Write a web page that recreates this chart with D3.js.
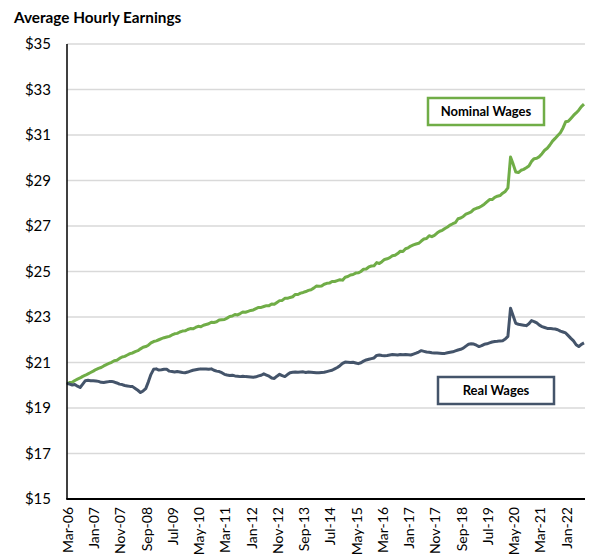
<!DOCTYPE html>
<html lang="en">
<head>
    <meta charset="UTF-8">
    <script src="https://d3js.org/d3.v7.min.js"></script>
    <style>
        body { margin: 0; background: white; }
        text { font-family: Lato, "Open Sans", sans-serif; fill: #000; }
        .title { font-size: 15.3px; font-weight: bold; }
        .tick-y { font-size: 15px; }
        .tick-x { font-size: 14px; }
        .label { font-size: 13px; font-weight: bold; }
        .grid { stroke: #d9d9d9; stroke-width: 1.3px; }
    </style>
</head>
<body>
    <div id="chart"></div>

    <script>
        // monthly, Mar-06 .. Aug-22
        const startMonth = new Date(2006, 2, 1);

        const nominal = [
            // 2006 Mar-Dec
            20.04, 20.12, 20.13, 20.21, 20.27, 20.32, 20.39, 20.44, 20.50, 20.56,
            // 2007
            20.62, 20.69, 20.74, 20.78, 20.85, 20.91, 20.96, 21.01, 21.08, 21.10, 21.18, 21.24,
            // 2008
            21.27, 21.33, 21.39, 21.42, 21.48, 21.52, 21.60, 21.67, 21.70, 21.76, 21.86, 21.92,
            // 2009
            21.95, 22.00, 22.05, 22.09, 22.12, 22.15, 22.21, 22.26, 22.28, 22.34, 22.38, 22.39,
            // 2010
            22.45, 22.49, 22.48, 22.54, 22.59, 22.57, 22.64, 22.67, 22.70, 22.77, 22.76, 22.79,
            // 2011
            22.87, 22.88, 22.89, 22.95, 23.02, 23.04, 23.11, 23.09, 23.15, 23.22, 23.21, 23.25,
            // 2012
            23.29, 23.31, 23.37, 23.42, 23.42, 23.46, 23.50, 23.50, 23.57, 23.56, 23.64, 23.72,
            // 2013
            23.73, 23.82, 23.82, 23.86, 23.89, 23.99, 23.99, 24.05, 24.08, 24.12, 24.17, 24.20,
            // 2014
            24.27, 24.36, 24.35, 24.36, 24.44, 24.48, 24.49, 24.56, 24.56, 24.60, 24.64, 24.62,
            // 2015
            24.75, 24.78, 24.85, 24.87, 24.93, 24.94, 25.00, 25.10, 25.11, 25.20, 25.24, 25.25,
            // 2016
            25.39, 25.35, 25.43, 25.53, 25.56, 25.61, 25.69, 25.71, 25.79, 25.89, 25.88, 26.00,
            // 2017
            26.04, 26.12, 26.17, 26.21, 26.24, 26.34, 26.43, 26.45, 26.57, 26.53, 26.59, 26.69,
            // 2018
            26.77, 26.81, 26.89, 26.96, 27.04, 27.10, 27.15, 27.32, 27.35, 27.42, 27.52, 27.57,
            // 2019
            27.62, 27.73, 27.78, 27.81, 27.88, 27.96, 28.06, 28.16, 28.16, 28.26, 28.31, 28.34,
            // 2020
            28.44, 28.52, 28.68, 30.03, 29.72, 29.37, 29.35, 29.45, 29.49, 29.56, 29.64, 29.84,
            // 2021
            29.96, 29.98, 30.05, 30.18, 30.33, 30.42, 30.56, 30.73, 30.85, 30.98, 31.10, 31.31,
            // 2022 Jan-Aug
            31.58, 31.60, 31.73, 31.86, 31.97, 32.09, 32.25, 32.36
        ];

        const real = [
            // 2006 Mar-Dec
            20.09, 20.05, 20.01, 20.03, 19.96, 19.90, 20.05, 20.20, 20.22, 20.20,
            // 2007
            20.20, 20.19, 20.17, 20.13, 20.12, 20.14, 20.16, 20.17, 20.14, 20.10, 20.05, 20.03,
            // 2008
            19.99, 19.97, 19.95, 19.94, 19.86, 19.78, 19.68, 19.75, 19.85, 20.15, 20.48, 20.70,
            // 2009
            20.72, 20.67, 20.68, 20.70, 20.70, 20.62, 20.60, 20.58, 20.60, 20.58, 20.56, 20.55,
            // 2010
            20.58, 20.62, 20.66, 20.68, 20.70, 20.72, 20.71, 20.71, 20.70, 20.72, 20.66, 20.62,
            // 2011
            20.60, 20.55, 20.48, 20.45, 20.43, 20.44, 20.41, 20.40, 20.38, 20.40, 20.38, 20.37,
            // 2012
            20.36, 20.35, 20.37, 20.41, 20.44, 20.50, 20.45, 20.40, 20.32, 20.30, 20.40, 20.48,
            // 2013
            20.42, 20.38, 20.47, 20.55, 20.57, 20.58, 20.57, 20.58, 20.59, 20.56, 20.58, 20.57,
            // 2014
            20.56, 20.55, 20.55, 20.56, 20.57, 20.60, 20.63, 20.66, 20.72, 20.78, 20.86, 20.96,
            // 2015
            21.02, 21.01, 21.00, 21.01, 20.98, 20.95, 20.99, 21.06, 21.11, 21.14, 21.17, 21.20,
            // 2016
            21.31, 21.33, 21.31, 21.30, 21.31, 21.33, 21.35, 21.34, 21.33, 21.35, 21.34, 21.35,
            // 2017
            21.34, 21.33, 21.37, 21.41, 21.46, 21.52, 21.49, 21.46, 21.45, 21.43, 21.42, 21.42,
            // 2018
            21.41, 21.40, 21.40, 21.43, 21.45, 21.47, 21.51, 21.55, 21.58, 21.63, 21.72, 21.80,
            // 2019
            21.82, 21.81, 21.76, 21.70, 21.74, 21.80, 21.82, 21.86, 21.90, 21.92, 21.93, 21.95,
            // 2020
            21.96, 22.03, 22.15, 23.38, 23.05, 22.72, 22.68, 22.66, 22.64, 22.62, 22.70, 22.84,
            // 2021
            22.80, 22.74, 22.64, 22.58, 22.54, 22.50, 22.50, 22.48, 22.47, 22.44, 22.38, 22.34,
            // 2022 Jan-Aug
            22.30, 22.18, 22.06, 21.95, 21.78, 21.70, 21.80, 21.86
        ];

        const yTicks = [15, 17, 19, 21, 23, 25, 27, 29, 31, 33, 35];
        const xTickLabels = ["Mar-06", "Jan-07", "Nov-07", "Sep-08", "Jul-09", "May-10", "Mar-11",
            "Jan-12", "Nov-12", "Sep-13", "Jul-14", "May-15", "Mar-16", "Jan-17", "Nov-17",
            "Sep-18", "Jul-19", "May-20", "Mar-21", "Jan-22"];

        const width = 589, height = 559;
        const plotLeft = 67, plotRight = 585, plotTop = 44, plotBottom = 499;

        const fmt = d3.timeFormat("%b-%y");
        const months = d3.range(nominal.length).map(i => fmt(d3.timeMonth.offset(startMonth, i)));

        const x = d3.scalePoint().domain(months).range([plotLeft, 584]);
        const y = d3.scaleLinear().domain([15, 35]).range([plotBottom, plotTop]);

        const svg = d3.select("#chart").append("svg")
            .attr("width", width)
            .attr("height", height);

        svg.append("text")
            .attr("class", "title")
            .attr("x", 14)
            .attr("y", 23)
            .text("Average Hourly Earnings");

        // gridlines
        svg.append("g").selectAll("line")
            .data(yTicks.filter(d => d !== 15))
            .enter().append("line")
            .attr("class", "grid")
            .attr("x1", plotLeft).attr("x2", plotRight)
            .attr("y1", d => y(d)).attr("y2", d => y(d));

        svg.append("g").selectAll("text")
            .data(yTicks)
            .enter().append("text")
            .attr("class", "tick-y")
            .attr("x", 51)
            .attr("y", d => y(d))
            .attr("dy", "0.35em")
            .attr("text-anchor", "end")
            .text(d => "$" + d);

        svg.append("g").selectAll("text")
            .data(xTickLabels)
            .enter().append("text")
            .attr("class", "tick-x")
            .attr("text-anchor", "end")
            .attr("dy", "0.35em")
            .attr("transform", d => `translate(${x(d) + 1},507) rotate(-90)`)
            .text(d => d);

        const line = d3.line()
            .x((d, i) => x(months[i]))
            .y(d => y(d));

        svg.append("path")
            .datum(nominal)
            .attr("fill", "none")
            .attr("stroke", "#70ad47")
            .attr("stroke-width", 3)
            .attr("stroke-linejoin", "round")
            .attr("d", line);

        svg.append("path")
            .datum(real)
            .attr("fill", "none")
            .attr("stroke", "#44546a")
            .attr("stroke-width", 3)
            .attr("stroke-linejoin", "round")
            .attr("d", line);

        // axes lines
        svg.append("line")
            .attr("x1", plotLeft).attr("x2", plotLeft)
            .attr("y1", plotTop).attr("y2", plotBottom)
            .attr("stroke", "#000").attr("stroke-width", 1.5);
        svg.append("line")
            .attr("x1", plotLeft - 0.75).attr("x2", plotRight)
            .attr("y1", plotBottom).attr("y2", plotBottom)
            .attr("stroke", "#000").attr("stroke-width", 2);

        // labels
        const labels = [
            { name: "Nominal Wages", color: "#70ad47", x0: 428, y0: 98, w: 116, h: 27 },
            { name: "Real Wages", color: "#44546a", x0: 438, y0: 377, w: 116, h: 27 }
        ];

        const lg = svg.append("g").selectAll("g")
            .data(labels)
            .enter().append("g");

        lg.append("rect")
            .attr("x", d => d.x0).attr("y", d => d.y0)
            .attr("width", d => d.w).attr("height", d => d.h)
            .attr("fill", "white")
            .attr("stroke", d => d.color)
            .attr("stroke-width", 2.5);

        lg.append("text")
            .attr("class", "label")
            .attr("x", d => d.x0 + d.w / 2)
            .attr("y", d => d.y0 + d.h / 2)
            .attr("dy", "0.35em")
            .attr("text-anchor", "middle")
            .text(d => d.name);
    </script>
</body>
</html>
